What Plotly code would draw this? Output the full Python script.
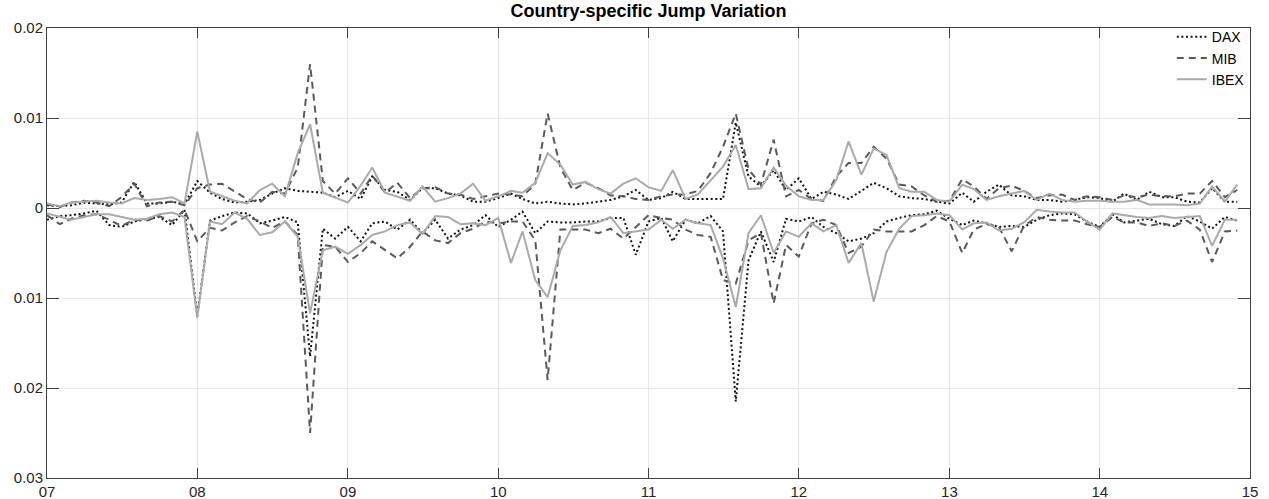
import pandas as pd
import plotly.graph_objects as go

# Monthly observations, Jan 2007 - Dec 2014
dates = pd.date_range("2007-01-01", periods=96, freq="MS")

# Upper (positive) jump variation, in units of 1e-3
dax_pos = [0.3, 0.2, 0.3, 0.6, 0.5, 0.4, 0.6, 2.9, 0.5, 0.5, 0.7, 0.4,
           3.0, 1.7, 1.0, 0.6, 0.7, 0.9, 1.6, 2.2, 1.9, 1.8, 1.7, 1.2,
           1.9, 1.0, 3.5, 2.0, 1.8, 0.9, 2.2, 2.2, 1.6, 1.4, 0.7, 0.7,
           1.1, 1.6, 1.0, 0.5, 0.7, 0.5, 0.4, 0.5, 0.7, 0.9, 1.3, 2.0,
           0.9, 1.1, 1.8, 1.0, 1.0, 1.0, 1.0, 9.5, 3.5, 2.4, 4.2, 2.0,
           3.3, 1.0, 1.8, 1.5, 1.0, 1.9, 2.8, 2.2, 1.3, 1.1, 1.0, 0.7,
           0.5, 1.7, 0.7, 1.8, 2.6, 1.4, 1.3, 0.9, 0.9, 0.7, 0.9, 1.2,
           1.1, 0.7, 1.6, 0.9, 1.8, 1.2, 1.2, 0.7, 0.6, 2.2, 0.7, 0.7]
mib_pos = [0.4, 0.1, 0.6, 0.8, 0.6, 0.2, 1.2, 2.7, 0.2, 0.6, 0.7, 0.3,
           2.2, 2.6, 2.7, 1.8, 1.0, 0.6, 1.8, 1.6, 4.5, 16.0, 3.0, 1.6,
           3.3, 1.6, 3.6, 1.7, 2.8, 1.1, 2.2, 2.3, 1.6, 1.5, 1.0, 1.3,
           1.6, 1.5, 1.3, 2.7, 10.5, 4.5, 2.0, 2.8, 2.2, 1.4, 1.3, 1.0,
           0.9, 1.3, 1.5, 1.5, 1.9, 3.9, 6.8, 10.5, 4.3, 2.6, 7.6, 1.3,
           2.0, 1.0, 0.8, 3.5, 5.0, 5.0, 6.8, 5.5, 2.6, 2.4, 1.4, 0.7,
           0.8, 3.2, 2.4, 1.0, 2.2, 2.5, 1.9, 1.1, 1.4, 1.5, 0.9, 1.3,
           1.2, 0.9, 1.4, 1.2, 1.5, 1.3, 1.3, 1.6, 1.6, 3.0, 1.2, 2.0]
ibex_pos = [0.5, 0.2, 0.6, 0.7, 0.8, 0.6, 0.5, 1.1, 0.9, 1.0, 1.2, 0.5,
            8.5, 1.8, 1.3, 0.8, 0.5, 2.0, 2.7, 1.3, 6.1, 9.3, 1.7, 1.2,
            0.6, 2.5, 4.5, 1.7, 1.3, 0.8, 2.4, 0.7, 1.1, 1.6, 2.7, 0.8,
            1.3, 1.9, 1.7, 2.8, 6.1, 4.8, 2.6, 2.9, 2.1, 1.6, 2.7, 3.3,
            2.3, 1.9, 4.2, 1.0, 1.5, 3.1, 4.6, 7.0, 2.1, 2.2, 4.5, 2.5,
            1.3, 0.9, 0.9, 3.1, 7.4, 3.7, 6.6, 5.9, 2.2, 1.8, 1.8, 0.9,
            0.7, 2.6, 2.1, 0.9, 1.3, 1.6, 1.9, 0.9, 1.6, 0.9, 0.7, 0.8,
            0.8, 0.7, 0.7, 0.9, 0.4, 0.4, 0.4, 0.3, 0.5, 2.4, 0.7, 2.6]

# Lower (negative) jump variation, in units of 1e-3
dax_neg = [-1.3, -0.9, -0.8, -0.6, -0.3, -1.9, -2.1, -1.5, -1.2, -1.0, -1.9, -0.2,
           -12.0, -1.4, -0.9, -0.5, -0.6, -1.7, -1.4, -1.0, -1.6, -16.5, -2.3, -3.4,
           -2.1, -3.7, -1.7, -1.5, -2.4, -1.3, -2.8, -1.3, -3.4, -2.4, -1.9, -0.8,
           -2.1, -1.3, -0.4, -2.8, -1.5, -1.6, -1.6, -1.5, -1.5, -1.1, -1.1, -5.2,
           -1.5, -1.1, -3.7, -1.3, -1.7, -0.9, -2.6, -21.5, -5.8, -2.6, -6.0, -1.2,
           -1.5, -1.0, -2.1, -2.8, -3.7, -3.4, -2.8, -1.5, -1.1, -0.8, -0.7, -0.3,
           -1.2, -1.9, -1.4, -1.7, -2.1, -2.0, -2.1, -1.3, -0.8, -0.6, -0.7, -1.5,
           -2.1, -0.7, -1.6, -1.4, -1.2, -1.8, -2.0, -0.9, -1.5, -2.3, -1.0, -1.4]
mib_neg = [-0.8, -1.8, -1.2, -0.8, -0.7, -1.3, -2.0, -1.3, -1.4, -0.9, -1.5, -0.2,
           -3.7, -2.2, -2.5, -1.6, -0.9, -1.5, -2.2, -1.5, -3.0, -25.0, -4.1, -4.3,
           -6.0, -5.0, -3.7, -4.7, -5.6, -4.3, -2.6, -3.6, -3.9, -2.8, -2.3, -1.5,
           -1.7, -1.5, -1.5, -3.6, -19.1, -2.4, -2.4, -2.4, -2.8, -2.3, -3.4, -2.1,
           -0.8, -1.1, -1.3, -2.4, -3.0, -3.2, -8.0, -8.4, -3.6, -2.8, -10.6, -4.1,
           -5.4, -1.7, -1.3, -1.9, -5.0, -4.3, -2.4, -2.6, -2.6, -2.6, -1.9, -0.9,
           -1.5, -5.0, -2.4, -1.8, -2.1, -4.8, -2.0, -1.0, -1.3, -1.4, -1.4, -1.8,
           -2.1, -1.0, -1.6, -1.6, -2.0, -1.7, -2.0, -1.4, -2.4, -6.0, -2.6, -2.5]
ibex_neg = [-0.6, -1.0, -1.3, -1.0, -0.7, -0.7, -1.0, -1.3, -1.2, -0.7, -0.5, -1.0,
            -12.2, -1.5, -1.8, -0.5, -1.2, -3.0, -2.7, -1.5, -3.2, -11.7, -4.7, -4.3,
            -5.1, -4.1, -3.0, -2.6, -1.9, -1.6, -2.9, -0.9, -1.0, -1.8, -1.7, -1.9,
            -1.1, -6.1, -2.6, -8.0, -9.9, -4.7, -2.0, -1.9, -1.6, -1.0, -2.8, -2.6,
            -2.4, -1.3, -2.3, -1.3, -1.7, -1.9, -5.6, -11.0, -2.8, -0.8, -5.0, -2.6,
            -3.2, -1.7, -2.6, -1.9, -6.1, -3.9, -10.4, -4.9, -2.3, -0.9, -0.8, -0.6,
            -0.8, -2.4, -1.7, -1.6, -2.5, -2.3, -1.6, -0.2, -0.4, -0.5, -0.5, -1.5,
            -2.4, -0.6, -0.8, -1.0, -1.1, -0.9, -1.1, -1.0, -0.9, -4.2, -1.3, -1.3]

SCALE = 1e-3

y_ticks = [-0.03, -0.02, -0.01, 0, 0.01, 0.02]
y_ticktext = ["0.03", "0.02", "0.01", "0", "0.01", "0.02"]
x_years = pd.date_range("2007-01-01", "2015-01-01", freq="YS")
x_ticktext = ["07", "08", "09", "10", "11", "12", "13", "14", "15"]

series = [
    ("DAX", dax_pos, dax_neg, dict(color="#111111", width=2, dash="2px,2.6px")),
    ("MIB", mib_pos, mib_neg, dict(color="#5a5a5a", width=2, dash="7px,5px")),
    ("IBEX", ibex_pos, ibex_neg, dict(color="#aaaaaa", width=2)),
]

fig = go.Figure()
for name, pos, neg, line in series:
    fig.add_trace(go.Scatter(x=dates, y=[v * SCALE for v in pos], mode="lines",
                             name=name, legendgroup=name, line=line))
    fig.add_trace(go.Scatter(x=dates, y=[v * SCALE for v in neg], mode="lines",
                             name=name, legendgroup=name, showlegend=False, line=line))

axis_common = dict(showline=True, linecolor="#404040", linewidth=1, mirror="ticks",
                   ticks="inside", tickcolor="#404040", showgrid=True,
                   gridcolor="#e6e6e6", gridwidth=1, zeroline=False, automargin=False,
                   tickfont=dict(size=15, color="#262626"))

fig.update_xaxes(range=[x_years[0], x_years[-1]], tickvals=x_years, ticktext=x_ticktext,
                 ticklen=10, **axis_common)
fig.update_yaxes(range=[-0.03, 0.02], tickvals=y_ticks, ticktext=y_ticktext,
                 ticklen=12, **axis_common)

fig.update_layout(
    width=1269, height=499,
    margin=dict(l=47, r=19, t=28, b=21, autoexpand=False),
    plot_bgcolor="white", paper_bgcolor="white",
    font=dict(family="Liberation Sans, Arial, sans-serif", color="#000000"),
    title=dict(text="<b>Country-specific Jump Variation</b>", x=0.511, xanchor="center",
               y=0.978, yanchor="middle", yref="container",
               font=dict(size=18, color="#000000")),
    legend=dict(x=0.935, y=1.015, xanchor="left", yanchor="top",
                bgcolor="rgba(0,0,0,0)", borderwidth=0, font=dict(size=14),
                itemwidth=30, tracegroupgap=0),
    showlegend=True,
)

fig.write_html("out.html")
